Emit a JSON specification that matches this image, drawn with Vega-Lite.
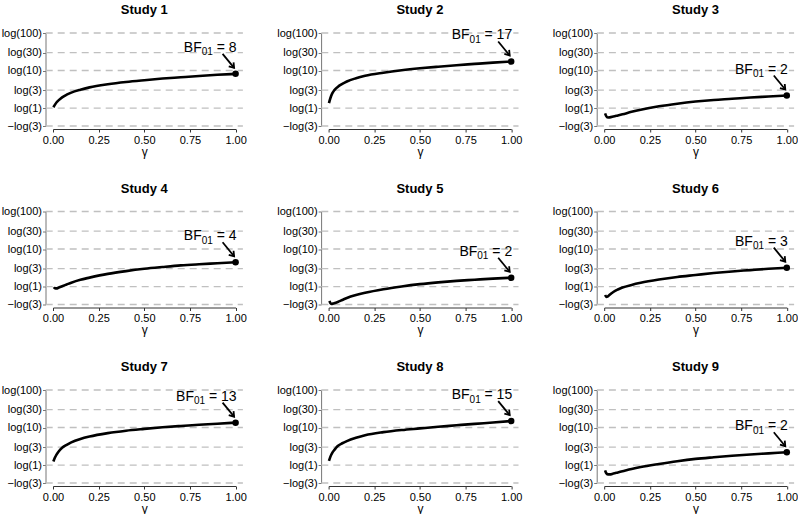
{
"$schema": "https://vega.github.io/schema/vega-lite/v6.json",
"padding": {"left": 1, "top": 4, "right": 0, "bottom": 0},
"background": "white",
"data": {"values": [
{"study":"Study 1","gamma":0.002,"logBF":0.05},{"study":"Study 1","gamma":0.01,"logBF":0.2},{"study":"Study 1","gamma":0.02,"logBF":0.36},{"study":"Study 1","gamma":0.03,"logBF":0.47},{"study":"Study 1","gamma":0.05,"logBF":0.66},{"study":"Study 1","gamma":0.075,"logBF":0.82},{"study":"Study 1","gamma":0.1,"logBF":0.95},{"study":"Study 1","gamma":0.15,"logBF":1.13},{"study":"Study 1","gamma":0.2,"logBF":1.27},{"study":"Study 1","gamma":0.3,"logBF":1.46},{"study":"Study 1","gamma":0.4,"logBF":1.6},{"study":"Study 1","gamma":0.5,"logBF":1.71},{"study":"Study 1","gamma":0.6,"logBF":1.81},{"study":"Study 1","gamma":0.7,"logBF":1.89},{"study":"Study 1","gamma":0.8,"logBF":1.97},{"study":"Study 1","gamma":0.9,"logBF":2.04},{"study":"Study 1","gamma":1.0,"logBF":2.1,"bf":8,"rhs":"= 8"},
{"study":"Study 2","gamma":0.002,"logBF":0.3},{"study":"Study 2","gamma":0.01,"logBF":0.62},{"study":"Study 2","gamma":0.02,"logBF":0.9},{"study":"Study 2","gamma":0.033,"logBF":1.12},{"study":"Study 2","gamma":0.05,"logBF":1.3},{"study":"Study 2","gamma":0.075,"logBF":1.48},{"study":"Study 2","gamma":0.1,"logBF":1.63},{"study":"Study 2","gamma":0.15,"logBF":1.83},{"study":"Study 2","gamma":0.2,"logBF":1.98},{"study":"Study 2","gamma":0.3,"logBF":2.17},{"study":"Study 2","gamma":0.4,"logBF":2.32},{"study":"Study 2","gamma":0.5,"logBF":2.44},{"study":"Study 2","gamma":0.6,"logBF":2.54},{"study":"Study 2","gamma":0.7,"logBF":2.63},{"study":"Study 2","gamma":0.8,"logBF":2.71},{"study":"Study 2","gamma":0.9,"logBF":2.79},{"study":"Study 2","gamma":1.0,"logBF":2.86,"bf":17,"rhs":"= 17"},
{"study":"Study 3","gamma":0.005,"logBF":-0.32},{"study":"Study 3","gamma":0.01,"logBF":-0.47},{"study":"Study 3","gamma":0.02,"logBF":-0.58},{"study":"Study 3","gamma":0.03,"logBF":-0.57},{"study":"Study 3","gamma":0.05,"logBF":-0.52},{"study":"Study 3","gamma":0.075,"logBF":-0.45},{"study":"Study 3","gamma":0.1,"logBF":-0.38},{"study":"Study 3","gamma":0.15,"logBF":-0.23},{"study":"Study 3","gamma":0.2,"logBF":-0.1},{"study":"Study 3","gamma":0.3,"logBF":0.11},{"study":"Study 3","gamma":0.4,"logBF":0.27},{"study":"Study 3","gamma":0.5,"logBF":0.4},{"study":"Study 3","gamma":0.6,"logBF":0.5},{"study":"Study 3","gamma":0.7,"logBF":0.57},{"study":"Study 3","gamma":0.8,"logBF":0.65},{"study":"Study 3","gamma":0.9,"logBF":0.71},{"study":"Study 3","gamma":1.0,"logBF":0.77,"bf":2,"rhs":"= 2"},
{"study":"Study 4","gamma":0.005,"logBF":-0.03},{"study":"Study 4","gamma":0.01,"logBF":-0.1},{"study":"Study 4","gamma":0.02,"logBF":-0.11},{"study":"Study 4","gamma":0.03,"logBF":-0.07},{"study":"Study 4","gamma":0.05,"logBF":0.02},{"study":"Study 4","gamma":0.075,"logBF":0.13},{"study":"Study 4","gamma":0.1,"logBF":0.24},{"study":"Study 4","gamma":0.15,"logBF":0.42},{"study":"Study 4","gamma":0.2,"logBF":0.55},{"study":"Study 4","gamma":0.3,"logBF":0.78},{"study":"Study 4","gamma":0.4,"logBF":0.95},{"study":"Study 4","gamma":0.5,"logBF":1.09},{"study":"Study 4","gamma":0.6,"logBF":1.2},{"study":"Study 4","gamma":0.7,"logBF":1.3},{"study":"Study 4","gamma":0.8,"logBF":1.37},{"study":"Study 4","gamma":0.9,"logBF":1.43},{"study":"Study 4","gamma":1.0,"logBF":1.49,"bf":4,"rhs":"= 4"},
{"study":"Study 5","gamma":0.005,"logBF":-0.87},{"study":"Study 5","gamma":0.01,"logBF":-1.02},{"study":"Study 5","gamma":0.015,"logBF":-1.07},{"study":"Study 5","gamma":0.03,"logBF":-1.02},{"study":"Study 5","gamma":0.05,"logBF":-0.94},{"study":"Study 5","gamma":0.075,"logBF":-0.82},{"study":"Study 5","gamma":0.1,"logBF":-0.7},{"study":"Study 5","gamma":0.15,"logBF":-0.52},{"study":"Study 5","gamma":0.2,"logBF":-0.38},{"study":"Study 5","gamma":0.3,"logBF":-0.16},{"study":"Study 5","gamma":0.4,"logBF":0.01},{"study":"Study 5","gamma":0.5,"logBF":0.15},{"study":"Study 5","gamma":0.6,"logBF":0.26},{"study":"Study 5","gamma":0.7,"logBF":0.35},{"study":"Study 5","gamma":0.8,"logBF":0.42},{"study":"Study 5","gamma":0.9,"logBF":0.49},{"study":"Study 5","gamma":1.0,"logBF":0.54,"bf":2,"rhs":"= 2"},
{"study":"Study 6","gamma":0.005,"logBF":-0.52},{"study":"Study 6","gamma":0.012,"logBF":-0.63},{"study":"Study 6","gamma":0.02,"logBF":-0.6},{"study":"Study 6","gamma":0.03,"logBF":-0.5},{"study":"Study 6","gamma":0.05,"logBF":-0.33},{"study":"Study 6","gamma":0.075,"logBF":-0.18},{"study":"Study 6","gamma":0.1,"logBF":-0.06},{"study":"Study 6","gamma":0.15,"logBF":0.1},{"study":"Study 6","gamma":0.2,"logBF":0.23},{"study":"Study 6","gamma":0.3,"logBF":0.43},{"study":"Study 6","gamma":0.4,"logBF":0.59},{"study":"Study 6","gamma":0.5,"logBF":0.71},{"study":"Study 6","gamma":0.6,"logBF":0.83},{"study":"Study 6","gamma":0.7,"logBF":0.93},{"study":"Study 6","gamma":0.8,"logBF":1.01},{"study":"Study 6","gamma":0.9,"logBF":1.09},{"study":"Study 6","gamma":1.0,"logBF":1.16,"bf":3,"rhs":"= 3"},
{"study":"Study 7","gamma":0.002,"logBF":0.22},{"study":"Study 7","gamma":0.01,"logBF":0.45},{"study":"Study 7","gamma":0.02,"logBF":0.66},{"study":"Study 7","gamma":0.03,"logBF":0.82},{"study":"Study 7","gamma":0.05,"logBF":1.06},{"study":"Study 7","gamma":0.075,"logBF":1.24},{"study":"Study 7","gamma":0.1,"logBF":1.39},{"study":"Study 7","gamma":0.15,"logBF":1.6},{"study":"Study 7","gamma":0.2,"logBF":1.75},{"study":"Study 7","gamma":0.3,"logBF":1.96},{"study":"Study 7","gamma":0.4,"logBF":2.11},{"study":"Study 7","gamma":0.5,"logBF":2.22},{"study":"Study 7","gamma":0.6,"logBF":2.32},{"study":"Study 7","gamma":0.7,"logBF":2.4},{"study":"Study 7","gamma":0.8,"logBF":2.47},{"study":"Study 7","gamma":0.9,"logBF":2.54},{"study":"Study 7","gamma":1.0,"logBF":2.6,"bf":13,"rhs":"= 13"},
{"study":"Study 8","gamma":0.002,"logBF":0.26},{"study":"Study 8","gamma":0.01,"logBF":0.52},{"study":"Study 8","gamma":0.02,"logBF":0.75},{"study":"Study 8","gamma":0.033,"logBF":0.95},{"study":"Study 8","gamma":0.05,"logBF":1.17},{"study":"Study 8","gamma":0.075,"logBF":1.34},{"study":"Study 8","gamma":0.1,"logBF":1.47},{"study":"Study 8","gamma":0.15,"logBF":1.67},{"study":"Study 8","gamma":0.2,"logBF":1.83},{"study":"Study 8","gamma":0.3,"logBF":2.02},{"study":"Study 8","gamma":0.4,"logBF":2.15},{"study":"Study 8","gamma":0.5,"logBF":2.25},{"study":"Study 8","gamma":0.6,"logBF":2.35},{"study":"Study 8","gamma":0.7,"logBF":2.44},{"study":"Study 8","gamma":0.8,"logBF":2.53},{"study":"Study 8","gamma":0.9,"logBF":2.61},{"study":"Study 8","gamma":1.0,"logBF":2.7,"bf":15,"rhs":"= 15"},
{"study":"Study 9","gamma":0.005,"logBF":-0.32},{"study":"Study 9","gamma":0.01,"logBF":-0.47},{"study":"Study 9","gamma":0.02,"logBF":-0.57},{"study":"Study 9","gamma":0.03,"logBF":-0.57},{"study":"Study 9","gamma":0.05,"logBF":-0.52},{"study":"Study 9","gamma":0.075,"logBF":-0.45},{"study":"Study 9","gamma":0.1,"logBF":-0.38},{"study":"Study 9","gamma":0.15,"logBF":-0.24},{"study":"Study 9","gamma":0.2,"logBF":-0.12},{"study":"Study 9","gamma":0.3,"logBF":0.07},{"study":"Study 9","gamma":0.4,"logBF":0.24},{"study":"Study 9","gamma":0.5,"logBF":0.38},{"study":"Study 9","gamma":0.6,"logBF":0.48},{"study":"Study 9","gamma":0.7,"logBF":0.57},{"study":"Study 9","gamma":0.8,"logBF":0.65},{"study":"Study 9","gamma":0.9,"logBF":0.72},{"study":"Study 9","gamma":1.0,"logBF":0.79,"bf":2,"rhs":"= 2"}
]},
"facet": {"field": "study", "type": "nominal", "header": {"title": null, "labelFont": "Liberation Sans", "labelFontSize": 13, "labelFontWeight": "bold", "labelColor": "black", "labelPadding": 10}},
"columns": 3,
"spacing": {"column": 29.6, "row": 25.5},
"resolve": {"axis": {"x": "independent", "y": "independent"}},
"spec": {
  "width": 182.6,
  "height": 93,
  "encoding": {
    "x": {"field": "gamma", "type": "quantitative", "scale": {"domain": [0, 1], "nice": false, "zero": false},
      "axis": {"values": [0, 0.25, 0.5, 0.75, 1], "format": ".2f", "title": "γ", "titleFontSize": 12, "titleFontWeight": "normal", "titlePadding": 1, "labelFontSize": 11, "labelColor": "black", "tickSize": 3, "labelPadding": 2, "domainColor": "#333", "tickColor": "#333", "offset": 3, "grid": false, "labelFlush": false, "labelOverlap": false}},
    "y": {"field": "logBF", "type": "quantitative", "scale": {"domain": [-1.0986, 4.6052], "nice": false, "zero": false},
      "axis": {"values": [-1.0986, 0, 1.0986, 2.3026, 3.4012, 4.6052], "title": null, "labelExpr": "datum.value < -1 ? '−log(3)' : datum.value < 0.5 ? 'log(1)' : datum.value < 1.5 ? 'log(3)' : datum.value < 3 ? 'log(10)' : datum.value < 4 ? 'log(30)' : 'log(100)'", "labelFontSize": 11, "labelColor": "black", "tickSize": 3, "labelPadding": 1, "domainColor": "#777", "tickColor": "#777", "offset": 7.5, "grid": false, "labelFlush": false, "labelOverlap": false}}
  },
  "layer": [
    {"transform": [{"filter": "datum.gamma == 1"}], "mark": {"type": "rule", "color": "#c0c0c0", "strokeWidth": 1.4, "strokeDash": [7, 5]}, "encoding": {"y": {"datum": -1.0986}, "x": {"datum": -0.04}, "x2": {"datum": 1.04}}},
    {"transform": [{"filter": "datum.gamma == 1"}], "mark": {"type": "rule", "color": "#c0c0c0", "strokeWidth": 1.4, "strokeDash": [7, 5]}, "encoding": {"y": {"datum": 0}, "x": {"datum": -0.04}, "x2": {"datum": 1.04}}},
    {"transform": [{"filter": "datum.gamma == 1"}], "mark": {"type": "rule", "color": "#c0c0c0", "strokeWidth": 1.4, "strokeDash": [7, 5]}, "encoding": {"y": {"datum": 1.0986}, "x": {"datum": -0.04}, "x2": {"datum": 1.04}}},
    {"transform": [{"filter": "datum.gamma == 1"}], "mark": {"type": "rule", "color": "#c0c0c0", "strokeWidth": 1.4, "strokeDash": [7, 5]}, "encoding": {"y": {"datum": 2.3026}, "x": {"datum": -0.04}, "x2": {"datum": 1.04}}},
    {"transform": [{"filter": "datum.gamma == 1"}], "mark": {"type": "rule", "color": "#c0c0c0", "strokeWidth": 1.4, "strokeDash": [7, 5]}, "encoding": {"y": {"datum": 3.4012}, "x": {"datum": -0.04}, "x2": {"datum": 1.04}}},
    {"transform": [{"filter": "datum.gamma == 1"}], "mark": {"type": "rule", "color": "#c0c0c0", "strokeWidth": 1.4, "strokeDash": [7, 5]}, "encoding": {"y": {"datum": 4.6052}, "x": {"datum": -0.04}, "x2": {"datum": 1.04}}},
    {"mark": {"type": "line", "color": "black", "strokeWidth": 2.6, "interpolate": "monotone"}},
    {"transform": [{"filter": "datum.gamma == 1"}], "mark": {"type": "rule", "color": "black", "strokeWidth": 1.8, "xOffset": -13, "yOffset": -20, "x2Offset": -1.5, "y2Offset": -6}, "encoding": {"x2": {"field": "gamma"}, "y2": {"field": "logBF"}}},
    {"transform": [{"filter": "datum.gamma == 1"}], "mark": {"type": "point", "shape": "M-0.75,-1.1L0,0L0.75,-1.1", "filled": false, "stroke": "black", "strokeWidth": 1.8, "size": 70, "angle": 320, "opacity": 1, "xOffset": -1.5, "yOffset": -6}},
    {"transform": [{"filter": "datum.gamma == 1"}], "mark": {"type": "point", "filled": true, "color": "black", "size": 42, "opacity": 1}},
    {"transform": [{"filter": "datum.gamma == 1"}], "mark": {"type": "text", "align": "right", "baseline": "alphabetic", "dx": 1, "dy": -22, "fontSize": 14, "color": "black", "font": "Liberation Sans"}, "encoding": {"text": {"field": "rhs"}}},
    {"transform": [{"filter": "datum.gamma == 1 && datum.bf < 10"}], "mark": {"type": "text", "align": "right", "baseline": "alphabetic", "dx": -22.8, "dy": -18.5, "fontSize": 10, "color": "black", "font": "Liberation Sans"}, "encoding": {"text": {"value": "01"}}},
    {"transform": [{"filter": "datum.gamma == 1 && datum.bf < 10"}], "mark": {"type": "text", "align": "right", "baseline": "alphabetic", "dx": -33.9, "dy": -22, "fontSize": 14, "color": "black", "font": "Liberation Sans"}, "encoding": {"text": {"value": "BF"}}},
    {"transform": [{"filter": "datum.gamma == 1 && datum.bf >= 10"}], "mark": {"type": "text", "align": "right", "baseline": "alphabetic", "dx": -30.5, "dy": -18.5, "fontSize": 10, "color": "black", "font": "Liberation Sans"}, "encoding": {"text": {"value": "01"}}},
    {"transform": [{"filter": "datum.gamma == 1 && datum.bf >= 10"}], "mark": {"type": "text", "align": "right", "baseline": "alphabetic", "dx": -41.6, "dy": -22, "fontSize": 14, "color": "black", "font": "Liberation Sans"}, "encoding": {"text": {"value": "BF"}}}
  ]
},
"config": {"view": {"stroke": null}, "font": "Liberation Sans", "axis": {"labelFont": "Liberation Sans", "titleFont": "Liberation Sans"}}
}
